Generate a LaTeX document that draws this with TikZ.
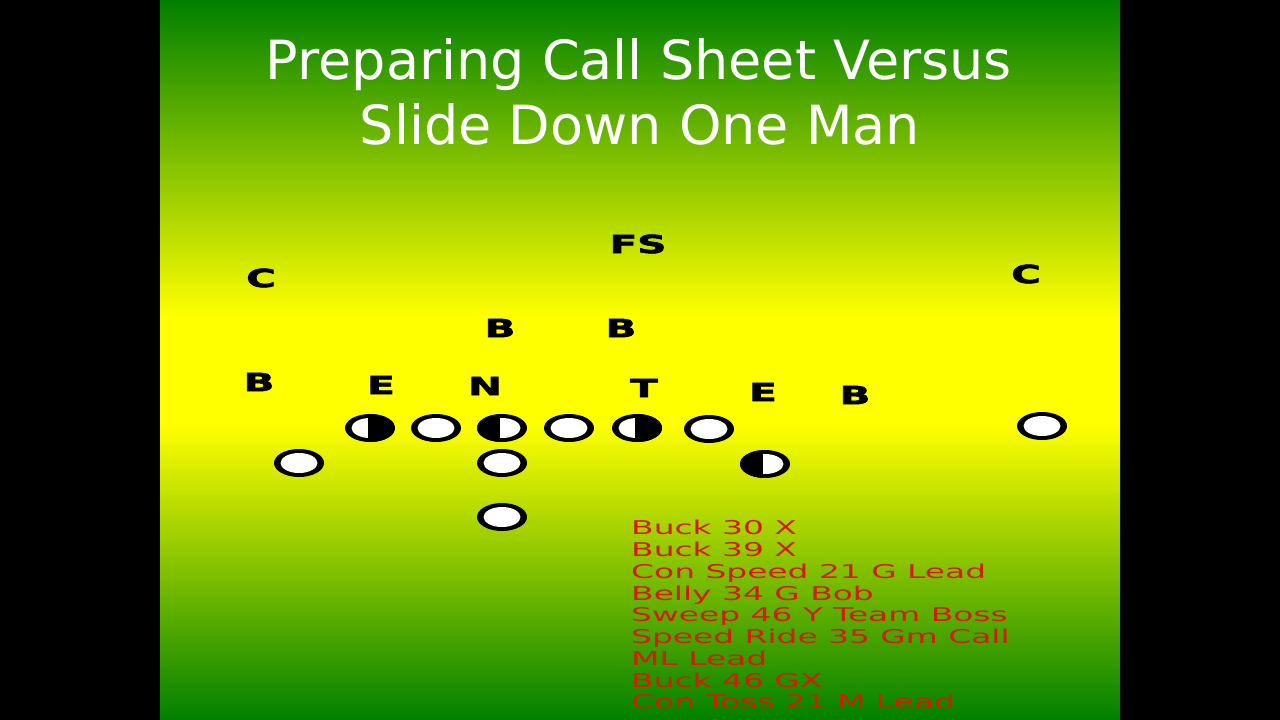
\documentclass[tikz,border=0pt]{standalone}
\usepackage{fontspec}
\setmainfont{DejaVu Sans}
\newfontfamily\heavyfont[FakeBold=2]{DejaVu Sans Bold}
\usetikzlibrary{shapes.geometric}
\definecolor{gtop}{RGB}{0,128,0}
\definecolor{gmid}{RGB}{255,255,0}
\definecolor{calltext}{RGB}{210,30,0}
\pgfdeclareverticalshading{slidebg}{100bp}{color(0bp)=(gtop); color(25bp)=(gtop); color(45.5bp)=(gmid); color(53bp)=(gmid); color(75bp)=(gtop); color(100bp)=(gtop)}
\tikzset{
  player/.style={ellipse, fill=black, draw=none, minimum width=50pt, minimum height=28pt, inner sep=0pt,
    path picture={\fill[white] (path picture bounding box.center) ellipse [x radius=18.5pt, y radius=10pt];}},
  halfright/.style={ellipse, fill=black, draw=none, minimum width=50pt, minimum height=28pt, inner sep=0pt,
    path picture={\fill[white] (path picture bounding box.center) ellipse [x radius=18.5pt, y radius=10pt];
      \fill[black] ([xshift=-2pt]path picture bounding box.north) rectangle (path picture bounding box.south east);}},
  halfleft/.style={ellipse, fill=black, draw=none, minimum width=50pt, minimum height=28pt, inner sep=0pt,
    path picture={\fill[white] (path picture bounding box.center) ellipse [x radius=18.5pt, y radius=10pt];
      \fill[black] (path picture bounding box.north west) rectangle ([xshift=-2pt]path picture bounding box.south);}},
  deflbl/.style={inner sep=0pt, font=\fontsize{25pt}{25pt}\heavyfont},
  calls/.style={inner sep=0pt, anchor=base west, text=calltext, font=\fontsize{19pt}{19pt}\selectfont},
  titletext/.style={inner sep=0pt, anchor=base, text=white, font=\fontsize{54pt}{54pt}\selectfont}
}
\newcommand{\widelbl}[1]{\scalebox{1.62}[1]{#1}}
\newcommand{\widecall}[1]{\scalebox{1.73}[1]{#1}}
\begin{document}
\begin{tikzpicture}[x=1pt,y=-1pt]
\useasboundingbox (0,0) rectangle (1280,720);
\fill[black] (0,0) rectangle (1280,720);
\shade[shading=slidebg] (160,0) rectangle (1120,720);
% title
\node[titletext] (t1) at (639,79) {Preparing Call Sheet Versus};
\node[titletext] (t2) at (640,144) {Slide Down One Man};
% defense labels
\node[deflbl] (fs) at (638,244) {\widelbl{FS}};
\node[deflbl] (c1) at (261,278) {\widelbl{C}};
\node[deflbl] (c2) at (1026,274) {\widelbl{C}};
\node[deflbl] (b1) at (500,328) {\widelbl{B}};
\node[deflbl] (b2) at (621,328) {\widelbl{B}};
\node[deflbl] (b3) at (259,382) {\widelbl{B}};
\node[deflbl] (e1) at (381,385) {\widelbl{E}};
\node[deflbl] (n1) at (485,386) {\widelbl{N}};
\node[deflbl] (t3) at (644,388) {\widelbl{T}};
\node[deflbl] (e2) at (763,392) {\widelbl{E}};
\node[deflbl] (b4) at (855,395) {\widelbl{B}};
% offense
\node[halfright] (o1) at (370,428) {};
\node[player] (o2) at (436,428) {};
\node[halfleft] (o3) at (502,428) {};
\node[player] (o4) at (569,428) {};
\node[halfright] (o5) at (637,428) {};
\node[player] (o6) at (709,429) {};
\node[player] (o7) at (1042,426) {};
\node[player] (o8) at (299,463) {};
\node[player] (o9) at (502,463) {};
\node[halfleft] (o10) at (765,464) {};
\node[player] (o11) at (502,517) {};
% calls
\node[calls] (l1) at (631,534.5) {\widecall{Buck 30 X}};
\node[calls] (l2) at (631,556) {\widecall{Buck 39 X}};
\node[calls] (l3) at (631,578) {\widecall{Con Speed 21 G Lead}};
\node[calls] (l4) at (631,600) {\widecall{Belly 34 G Bob}};
\node[calls] (l5) at (631,621.5) {\widecall{Sweep 46 Y Team Boss}};
\node[calls] (l6) at (631,643.5) {\widecall{Speed Ride 35 Gm Call}};
\node[calls] (l7) at (631,665) {\widecall{ML Lead}};
\node[calls] (l8) at (631,687) {\widecall{Buck 46 GX}};
\node[calls] (l9) at (631,708.5) {\widecall{Con Toss 21 M Lead}};
\end{tikzpicture}
\end{document}
